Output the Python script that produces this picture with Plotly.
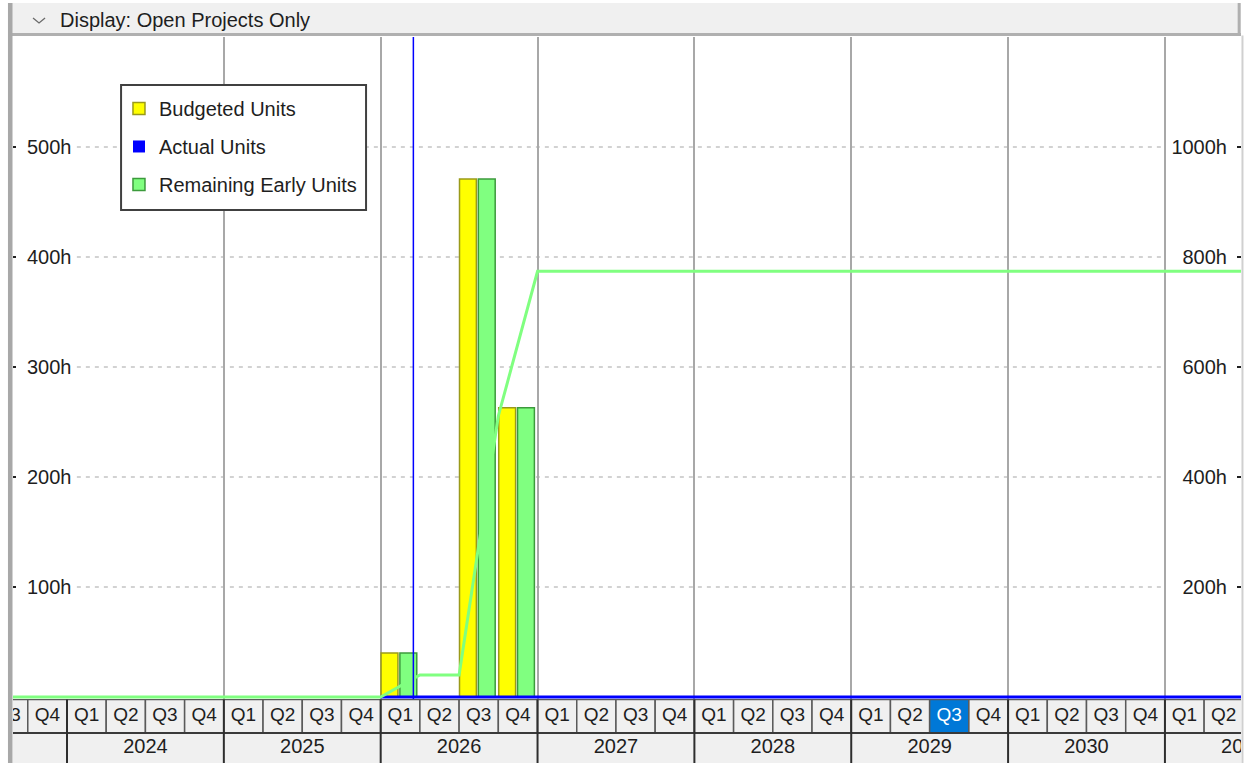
import datetime as dt

import numpy as np
import plotly.graph_objects as go

# ---------------------------------------------------------------- data
QUARTER_NAMES = ["Q1", "Q2", "Q3", "Q4"]
YEARS = [2024, 2025, 2026, 2027, 2028, 2029, 2030, 2031]

PERIODS = ["2026 Q1", "2026 Q2", "2026 Q3", "2026 Q4"]
BUDGETED_UNITS = [40, 0, 471, 263]
ACTUAL_UNITS = [0, 0, 0, 0]
REMAINING_EARLY_UNITS = [40, 0, 471, 263]

LEFT_TICKS = [100, 200, 300, 400, 500]
RIGHT_TICKS = [200, 400, 600, 800, 1000]

DATA_DATE = "2026-03-17"
CURRENT_PERIOD = "2029 Q3"
HEADER_TEXT = "Display: Open Projects Only"

# ---------------------------------------------------------------- timescale
BASE_YEAR = 2024            # quarter index 0 = 2024 Q1
FIRST_Q, LAST_Q = -2, 30    # 2023 Q3 .. end of 2031 Q2
X_RANGE = [-1.377, 29.94]


def period_index(label):
    year, q = label.split()
    return (int(year) - BASE_YEAR) * 4 + QUARTER_NAMES.index(q)


def date_index(text):
    d = dt.date.fromisoformat(text)
    q0 = dt.date(d.year, 3 * ((d.month - 1) // 3) + 1, 1)
    return (d.year - BASE_YEAR) * 4 + (d.month - 1) // 3 + (d - q0).days / 90.0


bar_x = [period_index(p) for p in PERIODS]


# cumulative curves, plotted at quarter ends
def cumulative(values, start):
    per_q = dict(zip(bar_x, values))
    xs = list(range(start, LAST_Q + 1))
    ys = np.cumsum([0] + [per_q.get(q, 0) for q in xs[:-1]])
    return xs, ys.tolist()


rem_cx, rem_cy = cumulative(REMAINING_EARLY_UNITS, FIRST_Q)
act_cx, act_cy = cumulative(ACTUAL_UNITS, period_index(PERIODS[0]))

FONT = "Liberation Sans, Arial, sans-serif"
TEXT = "#1e1e1e"
YELLOW, YELLOW_EDGE = "#ffff00", "#9a9a1a"
GREEN, GREEN_EDGE = "#80ff80", "#3c9a3c"
BLUE, BLUE_EDGE = "#0000ff", "#00008c"

fig = go.Figure()

fig.add_trace(go.Bar(
    x=bar_x, y=BUDGETED_UNITS, name="Budgeted Units", offset=0.01, width=0.43,
    marker=dict(color=YELLOW, line=dict(color=YELLOW_EDGE, width=1.5)),
    legendgroup="b", hoverinfo="skip"))
fig.add_trace(go.Bar(
    x=bar_x, y=ACTUAL_UNITS, name="Actual Units", offset=0.25, width=0.43,
    marker=dict(color=BLUE, line=dict(color=BLUE_EDGE, width=0)),
    legendgroup="a", hoverinfo="skip"))
fig.add_trace(go.Bar(
    x=bar_x, y=REMAINING_EARLY_UNITS, name="Remaining Early Units", offset=0.49, width=0.43,
    marker=dict(color=GREEN, line=dict(color=GREEN_EDGE, width=1.5)),
    legendgroup="r", hoverinfo="skip"))

# cumulative lines on the right-hand axis
fig.add_trace(go.Scatter(
    x=act_cx, y=act_cy, yaxis="y2", mode="lines", line=dict(color=BLUE, width=3),
    showlegend=False, hoverinfo="skip"))
fig.add_trace(go.Scatter(
    x=rem_cx, y=rem_cy, yaxis="y2", mode="lines", line=dict(color=GREEN, width=3),
    showlegend=False, hoverinfo="skip"))

# ---------------------------------------------------------------- timescale band
quarter_idx = list(range(FIRST_Q, LAST_Q))
q_labels = [QUARTER_NAMES[q % 4] for q in quarter_idx]
cur_q = period_index(CURRENT_PERIOD)
q_colors = ["white" if q == cur_q else TEXT for q in quarter_idx]

fig.add_trace(go.Scatter(
    x=[q + 0.5 for q in quarter_idx], y=[17.5] * len(quarter_idx), yaxis="y3",
    mode="text", text=q_labels, textposition="middle center",
    textfont=dict(family=FONT, size=19, color=q_colors),
    cliponaxis=True, showlegend=False, hoverinfo="skip"))
fig.add_trace(go.Scatter(
    x=[(y - BASE_YEAR) * 4 + 2 for y in YEARS], y=[49] * len(YEARS), yaxis="y3",
    mode="text", text=[str(y) for y in YEARS], textposition="middle center",
    textfont=dict(family=FONT, size=20, color=TEXT),
    cliponaxis=True, showlegend=False, hoverinfo="skip"))

shapes = []
for q in quarter_idx:
    shapes.append(dict(
        type="rect", xref="x", yref="y3", x0=q, x1=q + 1, y0=0.5, y1=34,
        fillcolor="#0078d7" if q == cur_q else "#f0f0f0",
        line=dict(color="#5a5a5a", width=1.5), layer="between"))
shapes.append(dict(type="rect", xref="x", yref="y3", x0=FIRST_Q, x1=LAST_Q, y0=34, y1=64,
                   fillcolor="#f0f0f0", line=dict(width=0), layer="between"))
shapes.append(dict(type="line", xref="x", yref="y3", x0=FIRST_Q, x1=LAST_Q, y0=34, y1=34,
                   line=dict(color="#3a3a3a", width=2), layer="between"))
for y in YEARS:
    xq = (y - BASE_YEAR) * 4
    shapes.append(dict(type="line", xref="x", yref="y3", x0=xq, x1=xq, y0=0.5, y1=64,
                       line=dict(color="#2e2e2e", width=2), layer="between"))

# dashed value gridlines (kept clear of the axis labels)
for v in LEFT_TICKS:
    shapes.append(dict(type="line", xref="paper", yref="y", x0=0.052, x1=0.938, y0=v, y1=v,
                       line=dict(color="#c4c4c4", width=1.3, dash="4px,5px"), layer="below"))

# data date
dd = date_index(DATA_DATE)
shapes.append(dict(type="line", xref="x", yref="y domain", x0=dd, x1=dd, y0=0, y1=1,
                   line=dict(color=BLUE, width=1.5), layer="above"))

# legend frame
shapes.append(dict(type="rect", xref="paper", yref="paper",
                   x0=0.0880, x1=0.2875, y0=0.7617, y1=0.9339,
                   fillcolor="white", line=dict(color="#404040", width=2), layer="above"))

# window frame and header bar
shapes += [
    dict(type="rect", xref="paper", yref="paper", x0=-0.0008, x1=1.0, y0=1.0028, y1=1.0468,
         fillcolor="#f0f0f0", line=dict(width=0)),
    dict(type="line", xref="paper", yref="paper", x0=-0.0008, x1=1.0, y0=1.0034, y1=1.0034,
         line=dict(color="#b0b0b0", width=3)),
    dict(type="line", xref="paper", yref="paper", x0=0.9985, x1=0.9985, y0=1.0028, y1=1.0468,
         line=dict(color="#b0b0b0", width=3)),
    dict(type="line", xref="paper", yref="paper", x0=1.0012, x1=1.0012, y0=0, y1=1.002,
         line=dict(color="#d0d0d0", width=2)),
    dict(type="rect", xref="paper", yref="paper", x0=-0.0041, x1=-0.0004, y0=0, y1=1.0468,
         fillcolor="#a8a8a8", line=dict(width=0)),
    # dropdown chevron
    dict(type="path", xref="paper", yref="paper",
         path="M 0.0163,1.0262 L 0.0212,1.0193 L 0.0261,1.0262",
         line=dict(color="#6a6a6a", width=1.3)),
]

annotations = [dict(
    xref="paper", yref="paper", x=0.0366, y=1.0234, xanchor="left", yanchor="middle",
    text=HEADER_TEXT, showarrow=False, font=dict(family=FONT, size=20, color=TEXT))]

PLOT_BOTTOM = 0.08815

fig.update_layout(
    width=1248, height=763,
    margin=dict(l=13, r=7, t=37, b=0),
    paper_bgcolor="white", plot_bgcolor="white",
    barmode="overlay", showlegend=True,
    font=dict(family=FONT, size=20, color=TEXT),
    xaxis=dict(range=X_RANGE, domain=[0, 1], anchor="y",
               tickvals=[(y - BASE_YEAR) * 4 for y in YEARS],
               showgrid=True, gridcolor="#a8a8a8", gridwidth=2,
               showticklabels=False, ticks="", zeroline=False, showline=False),
    yaxis=dict(domain=[PLOT_BOTTOM, 1], range=[-1.82, 600],
               tickvals=LEFT_TICKS, ticktext=[f"{v}h" for v in LEFT_TICKS],
               ticklabelposition="inside", ticks="inside", ticklen=3, tickwidth=1.5,
               tickcolor="#202020", tickfont=dict(size=20, color=TEXT),
               ticklabelstandoff=12,
               showgrid=False, zeroline=False, showline=False),
    yaxis2=dict(overlaying="y", side="right", range=[-3.64, 1200],
                tickvals=RIGHT_TICKS, ticktext=[f"{v}h" for v in RIGHT_TICKS],
                ticklabelposition="inside", ticks="inside", ticklen=4, tickwidth=1.5,
                tickcolor="#202020", tickfont=dict(size=20, color=TEXT),
                ticklabelstandoff=11,
                showgrid=False, zeroline=False, showline=False),
    yaxis3=dict(domain=[0, PLOT_BOTTOM], range=[64, 0], anchor="x", visible=False,
                fixedrange=True),
    legend=dict(x=0.0863, y=0.9284, xanchor="left", yanchor="top",
                bgcolor="rgba(0,0,0,0)", borderwidth=0,
                font=dict(family=FONT, size=20, color=TEXT),
                tracegroupgap=9, traceorder="grouped"),
    shapes=shapes, annotations=annotations,
)

fig.write_html("out.html")
